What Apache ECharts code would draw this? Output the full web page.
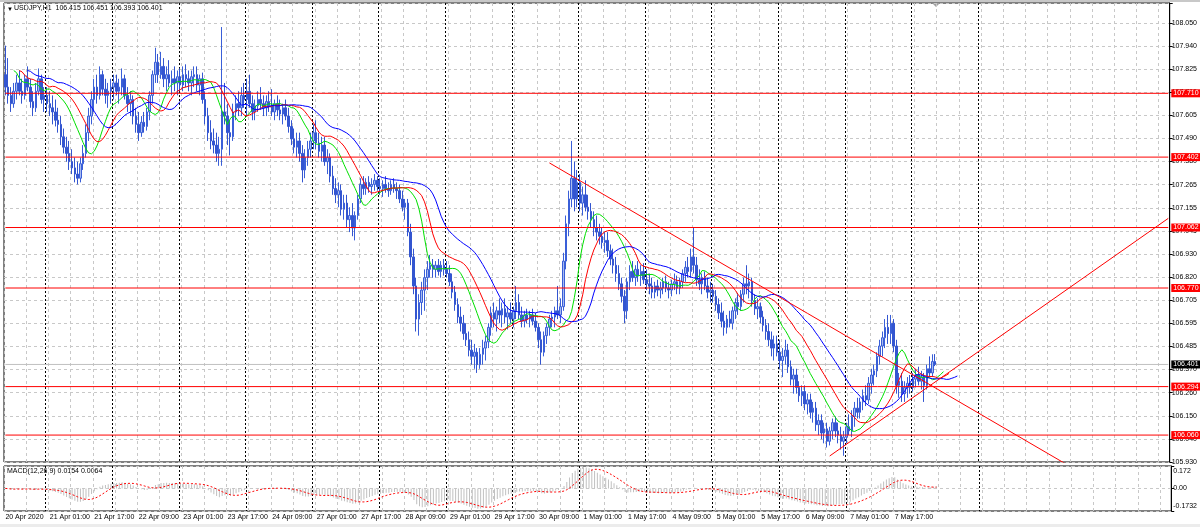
<!DOCTYPE html>
<html><head><meta charset="utf-8">
<script src="https://cdn.jsdelivr.net/npm/echarts@6/dist/echarts.min.js"></script>
<style>html,body{margin:0;padding:0;background:#fff;overflow:hidden}#c{width:1200px;height:527px}</style>
</head><body><div id="c"></div>
<script>
// ---------- DATA: hourly bars [open, high, low, close], one array per trading day ----------
const apr20 = [[107.80,107.94,107.70,107.74],[107.74,107.88,107.66,107.70],[107.70,107.74,107.62,107.66],[107.66,107.76,107.64,107.72],[107.72,107.80,107.68,107.76],[107.76,107.82,107.70,107.72],[107.72,107.78,107.66,107.70],[107.70,107.80,107.68,107.78],[107.78,107.84,107.72,107.74],[107.74,107.78,107.64,107.67],[107.67,107.72,107.60,107.64],[107.64,107.76,107.62,107.72],[107.72,107.83,107.70,107.78],[107.78,107.80,107.66,107.68],[107.68,107.74,107.62,107.70]];
const apr21 = [[107.70,107.74,107.62,107.66],[107.66,107.72,107.60,107.64],[107.64,107.70,107.56,107.62],[107.62,107.68,107.55,107.58],[107.58,107.64,107.52,107.56],[107.56,107.60,107.46,107.50],[107.50,107.54,107.42,107.45],[107.45,107.50,107.38,107.42],[107.42,107.48,107.34,107.38],[107.38,107.44,107.32,107.35],[107.35,107.40,107.28,107.32],[107.32,107.38,107.27,107.30],[107.30,107.40,107.28,107.37],[107.37,107.46,107.34,107.42],[107.42,107.56,107.40,107.52],[107.52,107.64,107.48,107.60],[107.60,107.72,107.56,107.68],[107.68,107.78,107.62,107.74],[107.74,107.80,107.66,107.70],[107.70,107.84,107.68,107.80],[107.80,107.82,107.70,107.73],[107.73,107.78,107.66,107.70],[107.70,107.76,107.64,107.72],[107.72,107.78,107.66,107.74]];
const apr22 = [[107.74,107.80,107.68,107.76],[107.76,107.80,107.70,107.72],[107.72,107.78,107.66,107.74],[107.74,107.83,107.70,107.78],[107.78,107.80,107.68,107.70],[107.70,107.74,107.62,107.66],[107.66,107.72,107.60,107.68],[107.68,107.70,107.56,107.60],[107.60,107.64,107.52,107.56],[107.56,107.62,107.48,107.52],[107.52,107.60,107.50,107.57],[107.57,107.62,107.52,107.55],[107.55,107.64,107.53,107.62],[107.62,107.72,107.58,107.70],[107.70,107.82,107.66,107.80],[107.80,107.93,107.76,107.86],[107.86,107.90,107.76,107.80],[107.80,107.91,107.78,107.84],[107.84,107.88,107.74,107.78],[107.78,107.84,107.72,107.80],[107.80,107.87,107.74,107.76],[107.76,107.82,107.70,107.78],[107.78,107.84,107.72,107.76],[107.76,107.82,107.70,107.79]];
const apr23 = [[107.79,107.83,107.72,107.75],[107.75,107.84,107.72,107.80],[107.80,107.85,107.74,107.78],[107.78,107.82,107.72,107.76],[107.76,107.82,107.70,107.79],[107.79,107.84,107.74,107.80],[107.80,107.84,107.72,107.75],[107.75,107.80,107.70,107.78],[107.78,107.81,107.66,107.68],[107.68,107.72,107.56,107.60],[107.60,107.64,107.48,107.52],[107.52,107.58,107.44,107.48],[107.48,107.54,107.42,107.46],[107.46,107.52,107.38,107.42],[107.42,107.50,107.36,107.44],[107.44,108.03,107.36,107.62],[107.62,107.76,107.56,107.60],[107.60,107.66,107.46,107.52],[107.52,107.58,107.41,107.50],[107.50,107.66,107.48,107.62],[107.62,107.70,107.58,107.66],[107.66,107.72,107.60,107.64],[107.64,107.74,107.60,107.70],[107.70,107.76,107.64,107.68]];
const apr24 = [[107.68,107.78,107.60,107.72],[107.72,107.80,107.64,107.66],[107.66,107.70,107.58,107.62],[107.62,107.68,107.58,107.65],[107.65,107.72,107.62,107.68],[107.68,107.74,107.63,107.66],[107.66,107.70,107.60,107.64],[107.64,107.70,107.60,107.67],[107.67,107.72,107.62,107.65],[107.65,107.73,107.60,107.62],[107.62,107.68,107.58,107.66],[107.66,107.70,107.60,107.63],[107.63,107.68,107.58,107.61],[107.61,107.66,107.56,107.64],[107.64,107.68,107.58,107.60],[107.60,107.64,107.52,107.55],[107.55,107.58,107.46,107.49],[107.49,107.54,107.42,107.45],[107.45,107.52,107.40,107.48],[107.48,107.52,107.38,107.42],[107.42,107.46,107.28,107.34],[107.34,107.44,107.30,107.40],[107.40,107.48,107.36,107.44],[107.44,107.52,107.40,107.48]];
const apr27 = [[107.48,107.56,107.44,107.52],[107.52,107.58,107.44,107.47],[107.47,107.52,107.40,107.43],[107.43,107.50,107.38,107.46],[107.46,107.50,107.36,107.38],[107.38,107.44,107.32,107.40],[107.40,107.42,107.28,107.31],[107.31,107.36,107.22,107.25],[107.25,107.30,107.18,107.22],[107.22,107.28,107.16,107.24],[107.24,107.27,107.12,107.15],[107.15,107.22,107.10,107.18],[107.18,107.22,107.06,107.10],[107.10,107.16,107.04,107.12],[107.12,107.18,107.02,107.06],[107.06,107.14,107.00,107.12],[107.12,107.22,107.10,107.20],[107.20,107.30,107.18,107.27],[107.27,107.31,107.22,107.25],[107.25,107.30,107.22,107.28],[107.28,107.31,107.23,107.26],[107.26,107.30,107.22,107.27],[107.27,107.32,107.24,107.29],[107.29,107.31,107.24,107.26]];
const apr28 = [[107.26,107.30,107.22,107.25],[107.25,107.29,107.21,107.27],[107.27,107.31,107.23,107.25],[107.25,107.28,107.21,107.24],[107.24,107.29,107.22,107.27],[107.27,107.30,107.23,107.25],[107.25,107.28,107.20,107.24],[107.24,107.27,107.18,107.20],[107.20,107.24,107.14,107.16],[107.16,107.20,107.10,107.18],[107.18,107.20,107.02,107.04],[107.04,107.08,106.88,106.92],[106.92,106.96,106.74,106.78],[106.78,106.82,106.56,106.62],[106.62,106.74,106.54,106.70],[106.70,106.80,106.64,106.76],[106.76,106.86,106.66,106.82],[106.82,106.90,106.76,106.86],[106.86,106.93,106.82,106.88],[106.88,106.91,106.82,106.86],[106.86,106.90,106.82,106.88],[106.88,106.91,106.83,106.85],[106.85,106.90,106.82,106.88],[106.88,106.91,106.83,106.86]];
const apr29 = [[106.86,106.90,106.82,106.84],[106.84,106.88,106.78,106.80],[106.80,106.84,106.72,106.75],[106.75,106.78,106.66,106.69],[106.69,106.72,106.60,106.63],[106.63,106.68,106.56,106.60],[106.60,106.64,106.52,106.55],[106.55,106.60,106.49,106.52],[106.52,106.56,106.44,106.47],[106.47,106.52,106.40,106.44],[106.44,106.50,106.38,106.46],[106.46,106.48,106.36,106.40],[106.40,106.48,106.38,106.45],[106.45,106.52,106.40,106.48],[106.48,106.54,106.42,106.51],[106.51,106.60,106.48,106.58],[106.58,106.68,106.54,106.65],[106.65,106.70,106.58,106.62],[106.62,106.68,106.56,106.66],[106.66,106.72,106.60,106.64],[106.64,106.70,106.58,106.67],[106.67,106.72,106.60,106.63],[106.63,106.68,106.57,106.65],[106.65,106.70,106.60,106.62]];
const apr30 = [[106.62,106.68,106.58,106.66],[106.66,106.78,106.62,106.70],[106.70,106.74,106.62,106.64],[106.64,106.68,106.58,106.61],[106.61,106.66,106.58,106.64],[106.64,106.67,106.60,106.62],[106.62,106.66,106.58,106.64],[106.64,106.67,106.59,106.61],[106.61,106.65,106.56,106.58],[106.58,106.60,106.48,106.52],[106.52,106.56,106.40,106.46],[106.46,106.56,106.44,106.54],[106.54,106.60,106.50,106.58],[106.58,106.64,106.54,106.62],[106.62,106.66,106.58,106.63],[106.63,106.68,106.58,106.66],[106.66,106.78,106.62,106.64],[106.64,106.72,106.60,106.68],[106.68,106.94,106.66,106.90],[106.90,107.12,106.86,107.08],[107.08,107.24,107.02,107.20],[107.20,107.48,107.16,107.30],[107.30,107.38,107.14,107.20],[107.20,107.34,107.16,107.28]];
const may01 = [[107.28,107.32,107.14,107.18],[107.18,107.26,107.12,107.22],[107.22,107.29,107.14,107.16],[107.16,107.22,107.10,107.14],[107.14,107.18,107.06,107.10],[107.10,107.14,107.02,107.06],[107.06,107.12,107.00,107.04],[107.04,107.08,106.98,107.02],[107.02,107.06,106.96,106.99],[106.99,107.04,106.94,107.00],[107.00,107.04,106.92,106.95],[106.95,106.98,106.88,106.91],[106.91,106.96,106.84,106.88],[106.88,106.92,106.80,106.84],[106.84,106.88,106.76,106.79],[106.79,106.82,106.70,106.73],[106.73,106.76,106.60,106.66],[106.66,106.82,106.62,106.80],[106.80,106.88,106.76,106.85],[106.85,106.90,106.80,106.82],[106.82,106.88,106.78,106.86],[106.86,106.90,106.80,106.83],[106.83,106.88,106.78,106.85],[106.85,106.89,106.79,106.81]];
const may04 = [[106.81,106.86,106.76,106.79],[106.79,106.84,106.74,106.78],[106.78,106.82,106.72,106.75],[106.75,106.80,106.72,106.78],[106.78,106.81,106.73,106.76],[106.76,106.80,106.72,106.77],[106.77,106.82,106.74,106.80],[106.80,106.83,106.75,106.77],[106.77,106.80,106.72,106.76],[106.76,106.81,106.73,106.79],[106.79,106.84,106.76,106.80],[106.80,106.83,106.74,106.77],[106.77,106.82,106.74,106.80],[106.80,106.86,106.77,106.84],[106.84,106.90,106.80,106.87],[106.87,106.92,106.82,106.85],[106.85,106.96,106.82,106.92],[106.92,107.06,106.84,106.88],[106.88,106.92,106.78,106.81],[106.81,106.86,106.76,106.79],[106.79,106.84,106.74,106.82],[106.82,106.85,106.76,106.78],[106.78,106.82,106.72,106.75],[106.75,106.80,106.70,106.76]];
const may05 = [[106.76,106.79,106.70,106.73],[106.73,106.76,106.66,106.69],[106.69,106.72,106.62,106.65],[106.65,106.70,106.58,106.61],[106.61,106.66,106.54,106.58],[106.58,106.64,106.55,106.62],[106.62,106.66,106.58,106.60],[106.60,106.68,106.57,106.66],[106.66,106.72,106.62,106.70],[106.70,106.74,106.64,106.68],[106.68,106.76,106.66,106.74],[106.74,106.82,106.70,106.79],[106.79,106.88,106.74,106.78],[106.78,106.84,106.72,106.80],[106.80,106.82,106.68,106.71],[106.71,106.74,106.64,106.67],[106.67,106.72,106.62,106.68],[106.68,106.70,106.60,106.63],[106.63,106.66,106.56,106.59],[106.59,106.62,106.52,106.56],[106.56,106.60,106.49,106.52],[106.52,106.56,106.44,106.48],[106.48,106.54,106.42,106.50],[106.50,106.54,106.44,106.46]];
const may06 = [[106.46,106.52,106.38,106.42],[106.42,106.48,106.34,106.44],[106.44,106.52,106.40,106.47],[106.47,106.50,106.36,106.39],[106.39,106.42,106.30,106.33],[106.33,106.38,106.26,106.35],[106.35,106.38,106.26,106.29],[106.29,106.32,106.22,106.25],[106.25,106.30,106.20,106.27],[106.27,106.30,106.18,106.21],[106.21,106.26,106.16,106.23],[106.23,106.26,106.14,106.17],[106.17,106.22,106.12,106.19],[106.19,106.22,106.08,106.11],[106.11,106.16,106.06,106.13],[106.13,106.16,106.04,106.07],[106.07,106.12,106.02,106.09],[106.09,106.12,106.00,106.03],[106.03,106.10,106.01,106.08],[106.08,106.14,106.04,106.12],[106.12,106.15,106.05,106.08],[106.08,106.12,106.02,106.06],[106.06,106.10,105.99,106.03],[106.03,106.08,105.96,106.05]];
const may07 = [[106.05,106.12,106.02,106.10],[106.10,106.16,106.06,106.08],[106.08,106.18,106.05,106.15],[106.15,106.22,106.10,106.19],[106.19,106.24,106.14,106.17],[106.17,106.24,106.14,106.22],[106.22,106.28,106.18,106.25],[106.25,106.30,106.20,106.23],[106.23,106.34,106.21,106.31],[106.31,106.38,106.26,106.35],[106.35,106.40,106.30,106.37],[106.37,106.46,106.34,106.44],[106.44,106.52,106.40,106.49],[106.49,106.56,106.44,106.53],[106.53,106.62,106.48,106.58],[106.58,106.64,106.50,106.55],[106.55,106.64,106.50,106.60],[106.60,106.62,106.46,106.49],[106.49,106.52,106.26,106.30],[106.30,106.36,106.24,106.32],[106.32,106.36,106.22,106.26],[106.26,106.32,106.22,106.29],[106.29,106.34,106.24,106.31],[106.31,106.35,106.26,106.29]];
const may08 = [[106.29,106.36,106.27,106.33],[106.33,106.38,106.29,106.35],[106.35,106.39,106.30,106.32],[106.32,106.37,106.28,106.34],[106.34,106.36,106.22,106.30],[106.30,106.40,106.28,106.38],[106.38,106.44,106.34,106.36],[106.36,106.45,106.34,106.415],[106.415,106.451,106.393,106.401]];

const priceTickLabels = ['105.930','106.040','106.150','106.260','106.370','106.485','106.595','106.705','106.820','106.930','107.045','107.155','107.265','107.380','107.490','107.605','107.710','107.825','107.940','108.050'];
const levelPrices = [107.710, 107.402, 107.062, 106.770, 106.294, 106.060];
const bidPrice = 106.401;
const trendDown = [[196, 107.374], [350, 106.171]];   // [bar slot, price] anchors, drawn as rays
const trendUp = [[297, 105.959], [413, 107.050]];
const macdLabels = {max: '0.172', zero: '0.00', min: '-0.1732'};
const macdTitle = 'MACD(12,26,9) 0.0154 0.0064';
const symbolTitle = 'USDJPY,H1';

// ---------- build ----------
const TOTAL_SLOTS = 420;
const MONTHS = ['Jan','Feb','Mar','Apr','May','Jun','Jul','Aug','Sep','Oct','Nov','Dec'];
const slotTimes = [];
for (let t = Date.UTC(2020,3,20,9); slotTimes.length < TOTAL_SLOTS; t += 3600000) {
  const d = new Date(t); const wd = d.getUTCDay();
  if (wd !== 0 && wd !== 6) slotTimes.push(d);
}
const pad = n => String(n).padStart(2,'0');
const categories = slotTimes.map(d => `${d.getUTCDate()} ${MONTHS[d.getUTCMonth()]} ${pad(d.getUTCHours())}:00`);
const bars = [].concat(apr20,apr21,apr22,apr23,apr24,apr27,apr28,apr29,apr30,may01,may04,may05,may06,may07,may08);
const lastIdx = bars.length - 1;
const closes = bars.map(b => b[3]);

const candle = bars.map(b => [b[0], b[3], b[2], b[1]]);
const median = bars.map(b => (b[1]+b[2])/2);
function smma(src, n){ const out=[]; let p=null; for (const v of src){ p = p===null ? v : (p*(n-1)+v)/n; out.push(p);} return out; }
function shifted(arr, s){ const out = new Array(TOTAL_SLOTS).fill(null); arr.forEach((v,i)=>{ if(i+s<TOTAL_SLOTS) out[i+s]=+v.toFixed(4); }); return out; }
const jaw = shifted(smma(median,13),8), teeth = shifted(smma(median,8),5), lips = shifted(smma(median,5),3);
function ema(src,n){ const k=2/(n+1); const out=[]; let p=src[0]; for(const v of src){ p=p+k*(v-p); out.push(p);} return out; }
const e12 = ema(closes,12), e26 = ema(closes,26);
const macdMain = e12.map((v,i)=> v - e26[i]);
const macdSignal = macdMain.map((v,i)=>{ const s=Math.max(0,i-8); const w=macdMain.slice(s,i+1); return w.reduce((a,b)=>a+b,0)/w.length; });

function ray(pts){ const [[x1,y1],[x2,y2]] = pts; const k=(y2-y1)/(x2-x1); const xe=TOTAL_SLOTS-1; return [[x1,y1],[xe, +(y1 + k*(xe-x1)).toFixed(4)]]; }

const FONT = 'Liberation Sans';
const TXT = {fontFamily: FONT, fontSize: 7, color: '#000'};
const isLabelIdx = i => i === 0 || (i >= 16 && (i-16) % 16 === 0 && i <= lastIdx);
const isGridIdx = i => { const h = slotTimes[i].getUTCHours(); return h===1 || h===9 || h===17; };
const isDayIdx = i => slotTimes[i].getUTCHours() === 0 && i < lastIdx + 24;

const PMIN = 105.930, PMAX = 108.146, PINT = (108.050-105.930)/19;

function xAxesFor(grid, withLabels){
  return [
    {type:'category', gridIndex:grid, data:categories, boundaryGap:true,
     axisLine:{show:false}, axisTick:{show:false},
     axisLabel:{show:withLabels, interval:(i)=>isLabelIdx(i), align:'left', margin:3, ...TXT,
       formatter:(v,i)=> i===0 ? '20 Apr 2020' : v},
     splitLine:{show:true, interval:(i)=>isGridIdx(i), lineStyle:{color:'#c8c8c8', type:[3,3], width:1}}},
    {type:'category', gridIndex:grid, data:categories, boundaryGap:true,
     axisLine:{show:false}, axisTick:{show:false}, axisLabel:{show:false},
     splitLine:{show:true, interval:(i)=>isDayIdx(i), lineStyle:{color:'#000', type:[2,2], width:1}}}
  ];
}

function levelSeries(p, lineColor, boxColor, z){
  return {type:'line', xAxisIndex:0, yAxisIndex:0, z, silent:true, showSymbol:false, clip:false,
    data:[[0,p],[TOTAL_SLOTS-1,p]], lineStyle:{color:lineColor, width:1},
    endLabel:{show:true, distance:3, formatter:p.toFixed(3), backgroundColor:boxColor, color:'#fff', fontFamily:FONT, fontSize:7, padding:[1,2,0,2]}};
}

const chart = echarts.init(document.getElementById('c'), null, {renderer:'canvas'});
chart.setOption({
  animation:false,
  backgroundColor:'#fff',
  grid:[
    {left:4, right:28, top:3, height:459, show:true, borderColor:'#000', borderWidth:1, backgroundColor:'#fff'},
    {left:4, right:28, top:466, height:45, show:true, borderColor:'#000', borderWidth:1, backgroundColor:'#fff'}
  ],
  xAxis:[...xAxesFor(0,false), ...xAxesFor(1,true)],
  yAxis:[
    {type:'value', gridIndex:0, position:'right', min:PMIN, max:PMAX, interval:PINT,
     axisLine:{show:true, lineStyle:{color:'#000'}}, axisTick:{show:true, length:3, lineStyle:{color:'#000'}},
     axisLabel:{margin:2, ...TXT, align:'left', formatter:(v)=>{ const m = priceTickLabels.find(s=>Math.abs(+s - v) < 0.02); return m || ''; }},
     splitLine:{show:true, lineStyle:{color:'#c8c8c8', type:[3,3]}}},
    {type:'value', gridIndex:1, position:'right', min:-0.1732, max:0.172, interval:0.1732,
     axisLine:{show:true, lineStyle:{color:'#000'}}, axisTick:{show:true, length:3, lineStyle:{color:'#000'}},
     axisLabel:{margin:2, ...TXT, align:'left',
       formatter:(v)=> Math.abs(v)<1e-6 ? macdLabels.zero : (v>0 ? '{top|'+macdLabels.max+'}' : '{bot|'+macdLabels.min+'}'),
       rich:{top:{padding:[10,0,0,0], fontFamily:FONT, fontSize:7, color:'#000'}, bot:{padding:[0,0,10,0], fontFamily:FONT, fontSize:7, color:'#000'}}},
     splitLine:{show:true, lineStyle:{color:'#c8c8c8', type:[3,3]}}}
  ],
  series:[
    levelSeries(bidPrice, '#c0c0c0', '#000', 1),
    {type:'candlestick', xAxisIndex:0, yAxisIndex:0, data:candle, barWidth:2, z:3,
     itemStyle:{color:'#a9bbef', color0:'#3355d0', borderColor:'#3a5fd8', borderColor0:'#3355d0', borderWidth:1}},
    {type:'line', xAxisIndex:0, yAxisIndex:0, data:lips, z:4, showSymbol:false, lineStyle:{color:'#00e000', width:1}},
    {type:'line', xAxisIndex:0, yAxisIndex:0, data:teeth, z:4, showSymbol:false, lineStyle:{color:'#ff0000', width:1}},
    {type:'line', xAxisIndex:0, yAxisIndex:0, data:jaw, z:4, showSymbol:false, lineStyle:{color:'#0000ff', width:1}},
    {type:'line', xAxisIndex:0, yAxisIndex:0, data:ray(trendDown), z:5, showSymbol:false, clip:true, lineStyle:{color:'#ff0000', width:1}},
    {type:'line', xAxisIndex:0, yAxisIndex:0, data:ray(trendUp), z:5, showSymbol:false, clip:true, lineStyle:{color:'#ff0000', width:1}},
    ...levelPrices.map(p => levelSeries(p, '#ff0000', '#ff0000', 6)),
    {type:'bar', xAxisIndex:2, yAxisIndex:1, data:macdMain.map(v=>+v.toFixed(4)), barWidth:1, itemStyle:{color:'#c0c0c0'}},
    {type:'line', xAxisIndex:2, yAxisIndex:1, data:macdSignal.map(v=>+v.toFixed(4)), showSymbol:false, lineStyle:{color:'#ff0000', width:1, type:[2,2]}}
  ],
  graphic:[
    {type:'rect', shape:{x:0, y:0, width:1200, height:2}, style:{fill:'#c8c8c8'}},
    {type:'rect', shape:{x:0, y:524, width:1200, height:3}, style:{fill:'#ececec'}},
    {type:'text', left:7, top:6, style:{text:'▼', fontSize:6, fill:'#000', fontFamily:FONT}},
    {type:'text', left:14, top:5, style:{text:`${symbolTitle}  ${bars[lastIdx].map(v=>v.toFixed(3)).join(' ')}`, fontSize:7, fill:'#000', fontFamily:FONT}},
    {type:'text', left:7, top:468, style:{text:macdTitle, fontSize:7, fill:'#000', fontFamily:FONT}},
    {type:'polygon', shape:{points:[[932,3],[940,3],[936,7]]}, style:{fill:'#a0a0a0'}}
  ]
});
</script></body></html>
